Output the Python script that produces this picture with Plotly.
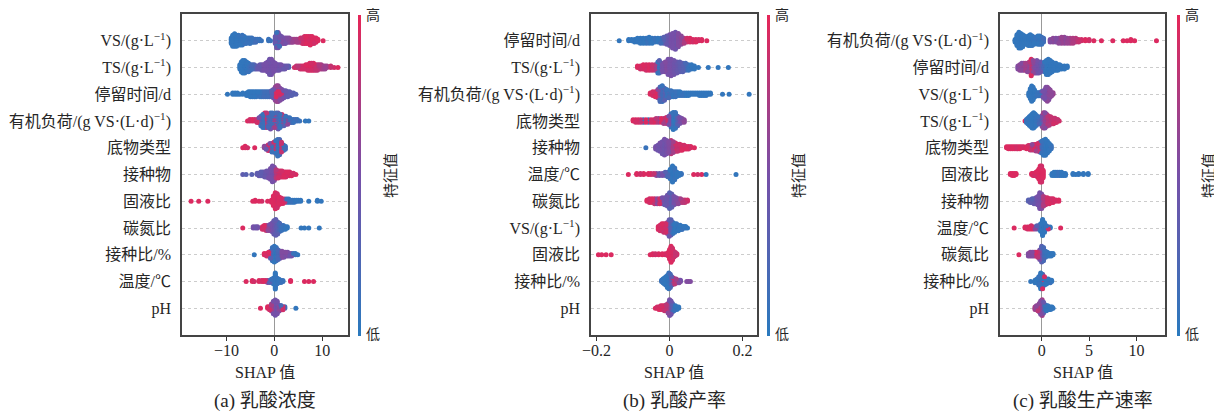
import numpy as np
import plotly.graph_objects as go

# ---------------- labels ----------------
VS_L = "VS/(g·L<sup>−1</sup>)"
TS_L = "TS/(g·L<sup>−1</sup>)"
HRT_L = "停留时间/d"
OLR_L = "有机负荷/(g VS·(L·d)<sup>−1</sup>)"
SUB_L = "底物类型"
INO_L = "接种物"
SL_L = "固液比"
CN_L = "碳氮比"
IR_L = "接种比/%"
T_L = "温度/℃"
PH_L = "pH"

LABELS_A = [VS_L, TS_L, HRT_L, OLR_L, SUB_L, INO_L, SL_L, CN_L, IR_L, T_L, PH_L]
LABELS_B = [HRT_L, TS_L, OLR_L, SUB_L, INO_L, T_L, CN_L, VS_L, SL_L, IR_L, PH_L]
LABELS_C = [OLR_L, HRT_L, VS_L, TS_L, SUB_L, SL_L, INO_L, T_L, CN_L, IR_L, PH_L]

TITLES = ["(a) 乳酸浓度", "(b) 乳酸产率", "(c) 乳酸生产速率"]
XTICKS_A = [-10, 0, 10]
XTICKS_B = [-0.2, 0, 0.2]
XTICKS_C = [0, 5, 10]
XTICKTEXT_A = ["−10", "0", "10"]
XTICKTEXT_B = ["−0.2", "0", "0.2"]
XTICKTEXT_C = ["0", "5", "10"]

# ---------------- data: (SHAP value, number of samples, feature value 0=low..1=high) ----------------
# panel (a) 乳酸浓度
A_VS = [(-9.0,5,0.05),(-8.7,9,0.05),(-8.3,10,0.05),(-7.9,9,0.05),(-7.5,8,0.08),(-7.1,7,0.05),(-6.7,8,0.1),
        (-6.3,6,0.05),(-5.9,5,0.1),(-5.5,4,0.1),(-5.1,5,0.1),(-4.7,4,0.1),(-4.3,3,0.1),(-3.9,3,0.15),(-3.5,2,0.1),
        (-3.1,2,0.1),(-2.7,1,0.1),(-1.2,2,0.1),(-0.8,1,0.1),(0.2,6,0.4),(0.5,8,0.45),(0.5,4,0.1),(0.8,12,0.5),
        (1.1,6,0.45),(1.1,3,0.15),(1.5,6,0.5),(1.9,5,0.55),(2.3,5,0.5),(2.7,4,0.55),(3.1,4,0.6),(3.5,3,0.6),
        (3.9,3,0.65),(4.3,2,0.7),(4.7,3,0.7),(5.1,3,0.75),(5.5,4,0.85),(5.9,5,0.9),(6.3,6,0.9),(6.7,6,0.95),
        (7.1,6,0.9),(7.5,7,0.95),(7.9,6,0.95),(8.3,5,0.9),(8.7,4,0.95),(9.1,2,0.95),(10.2,1,0.95)]
A_TS = [(-7.2,4,0.05),(-6.9,8,0.05),(-6.6,10,0.05),(-6.2,10,0.08),(-5.8,8,0.05),(-5.4,7,0.1),(-5.0,5,0.15),
        (-4.6,4,0.2),(-4.2,4,0.3),(-3.8,3,0.35),(-3.4,3,0.4),(-3.0,4,0.4),(-2.6,5,0.45),(-2.2,5,0.5),(-1.8,6,0.5),
        (-1.4,8,0.5),(-1.0,12,0.45),(-0.6,12,0.5),(-0.2,8,0.5),(0.2,6,0.5),(0.6,5,0.5),(1.0,5,0.45),(1.4,4,0.5),
        (1.8,3,0.4),(2.2,3,0.45),(2.6,2,0.4),(3.0,2,0.3),(4.2,1,0.9),(4.6,2,0.85),(5.0,2,0.8),(5.4,3,0.85),
        (5.8,3,0.9),(6.2,3,0.9),(6.6,4,0.95),(7.0,5,0.9),(7.4,6,0.95),(7.8,6,0.9),(8.2,6,0.95),(8.6,5,0.85),
        (9.0,5,0.8),(9.4,4,0.75),(9.8,4,0.7),(10.2,3,0.7),(10.6,3,0.65),(11.0,2,0.7),(11.8,2,0.85),(12.5,1,0.9),
        (13.3,1,0.95)]
A_HRT = [(-9.8,1,0.05),(-8.7,2,0.05),(-8.2,2,0.05),(-7.7,2,0.05),(-7.2,1,0.05),(-6.6,2,0.05),(-5.8,3,0.05),
         (-5.4,4,0.05),(-5.0,5,0.05),(-4.6,5,0.1),(-4.2,5,0.05),(-3.8,5,0.1),(-3.4,4,0.05),(-3.0,5,0.1),
         (-2.6,5,0.1),(-2.2,5,0.15),(-1.8,5,0.1),(-1.4,5,0.15),(-1.0,5,0.2),(-0.6,6,0.3),(-0.2,8,0.5),
         (0.2,12,0.6),(0.4,5,0.95),(0.5,14,0.65),(0.8,14,0.6),(0.9,4,0.95),(1.2,11,0.55),(1.5,3,0.9),
         (1.6,9,0.5),(2.0,7,0.45),(2.4,6,0.4),(2.8,5,0.35),(3.2,4,0.35),(3.6,3,0.3),(4.0,2,0.3),(4.5,1,0.3)]
A_OLR = [(-5.6,1,0.95),(-5.1,2,0.9),(-4.6,2,0.95),(-4.1,2,0.85),(-3.6,3,0.9),(-3.2,4,0.5),(-2.8,7,0.15),
         (-2.4,9,0.1),(-2.0,6,0.1),(-2.0,4,0.9),(-1.6,10,0.8),(-1.2,9,0.2),(-0.8,7,0.5),(-0.8,4,0.1),
         (-0.4,10,0.15),(0.0,9,0.7),(0.4,10,0.2),(0.8,7,0.4),(0.8,4,0.9),(1.2,9,0.1),(1.6,8,0.85),(2.0,7,0.3),
         (2.4,6,0.1),(2.8,5,0.6),(3.2,4,0.1),(3.6,3,0.2),(4.0,3,0.1),(4.4,2,0.15),(4.8,2,0.1),(5.3,1,0.1),
         (6.5,1,0.05),(7.2,1,0.05)]
A_SUB = [(-6.6,1,0.95),(-6.1,2,0.95),(-5.6,1,0.9),(-4.1,1,0.95),(-2.1,2,0.6),(-1.7,3,0.4),(-1.3,5,0.9),
         (-0.9,6,0.5),(-0.5,7,0.1),(-0.1,8,0.9),(0.3,10,0.1),(0.7,13,0.1),(1.1,12,0.2),(1.5,8,0.85),
         (1.9,5,0.1),(2.3,3,0.15)]
A_INO = [(-6.6,1,0.35),(-5.9,1,0.3),(-4.7,1,0.3),(-3.6,2,0.35),(-3.2,3,0.4),(-2.8,4,0.35),(-2.4,4,0.4),
         (-2.0,5,0.4),(-1.6,6,0.45),(-1.2,7,0.5),(-0.8,10,0.5),(-0.4,14,0.5),(0.0,12,0.55),(0.4,8,0.8),
         (0.8,7,0.9),(1.2,6,0.85),(1.6,6,0.9),(2.0,5,0.95),(2.4,5,0.9),(2.8,4,0.95),(3.2,4,0.9),(3.6,3,0.95),
         (4.0,2,0.9),(4.5,1,0.95)]
A_SL = [(-17.4,1,0.95),(-15.8,1,0.95),(-13.9,1,0.95),(-4.5,1,0.95),(-4.0,2,0.95),(-3.2,1,0.95),(-2.6,1,0.9),
        (-1.4,1,0.95),(-0.6,3,0.95),(-0.2,10,0.95),(0.2,16,0.95),(0.6,14,0.9),(1.0,8,0.95),(1.4,6,0.9),
        (1.8,5,0.95),(2.2,4,0.8),(2.6,4,0.1),(3.0,4,0.05),(3.4,3,0.1),(3.8,3,0.05),(4.2,3,0.1),(4.6,2,0.05),
        (5.0,2,0.1),(5.5,2,0.05),(7.2,1,0.05),(9.0,2,0.05),(9.8,1,0.05)]
A_CN = [(-6.6,1,0.95),(-4.4,2,0.5),(-3.9,2,0.45),(-3.5,2,0.5),(-2.5,3,0.9),(-2.1,4,0.95),(-1.7,5,0.85),
        (-1.3,5,0.6),(-0.9,6,0.5),(-0.5,8,0.45),(-0.1,12,0.4),(0.3,14,0.35),(0.7,11,0.3),(1.1,8,0.2),
        (1.5,5,0.1),(1.9,4,0.1),(2.3,3,0.05),(2.7,2,0.05),(5.6,1,0.05),(6.3,1,0.05),(7.2,1,0.05),(9.4,1,0.05)]
A_IR = [(-4.2,1,0.05),(-2.1,2,0.95),(-1.6,3,0.9),(-1.2,4,0.95),(-0.8,7,0.3),(-0.4,12,0.1),(0.0,14,0.05),
        (0.4,12,0.1),(0.8,9,0.2),(1.2,7,0.5),(1.6,6,0.55),(2.0,5,0.5),(2.4,4,0.55),(2.8,4,0.5),(3.2,3,0.45),
        (3.6,3,0.5),(4.0,2,0.1),(4.4,2,0.05),(4.9,1,0.05)]
A_T = [(-5.9,1,0.95),(-4.6,2,0.95),(-4.2,1,0.9),(-3.2,2,0.95),(-2.6,2,0.9),(-2.2,2,0.95),(-1.8,2,0.85),
       (-1.4,3,0.6),(-1.0,3,0.3),(-0.6,4,0.1),(-0.2,6,0.05),(0.2,16,0.05),(0.6,6,0.1),(1.0,4,0.05),
       (1.4,3,0.1),(1.8,2,0.1),(3.4,2,0.95),(6.3,1,0.95),(7.2,1,0.95),(8.2,1,0.95)]
A_PH = [(-2.9,1,0.95),(-1.4,2,0.95),(-1.0,3,0.9),(-0.6,6,0.7),(-0.2,10,0.5),(0.2,12,0.45),(0.6,10,0.5),
        (1.0,5,0.6),(1.4,4,0.2),(1.8,3,0.9),(2.2,2,0.2),(4.5,1,0.05)]

# panel (b) 乳酸产率
B_HRT = [(-0.138,1,0.05),(-0.112,2,0.05),(-0.104,2,0.05),(-0.096,3,0.05),(-0.088,4,0.05),(-0.080,5,0.05),
         (-0.072,5,0.05),(-0.064,5,0.1),(-0.056,6,0.05),(-0.048,5,0.05),(-0.040,4,0.1),(-0.032,4,0.05),
         (-0.024,5,0.15),(-0.016,6,0.3),(-0.008,8,0.4),(0.000,10,0.5),(0.008,13,0.5),(0.016,15,0.45),
         (0.024,12,0.55),(0.032,8,0.6),(0.040,5,0.75),(0.048,4,0.9),(0.056,4,0.95),(0.064,3,0.9),
         (0.072,3,0.95),(0.080,2,0.9),(0.088,2,0.95),(0.102,1,0.95)]
B_TS = [(-0.088,2,0.95),(-0.080,3,0.9),(-0.072,4,0.95),(-0.064,5,0.9),(-0.056,5,0.95),(-0.048,5,0.85),
        (-0.040,5,0.7),(-0.032,9,0.1),(-0.028,10,0.3),(-0.020,7,0.5),(-0.012,8,0.55),(-0.004,12,0.5),
        (0.004,13,0.5),(0.012,11,0.45),(0.020,9,0.4),(0.028,8,0.35),(0.036,7,0.3),(0.044,6,0.2),
        (0.052,5,0.1),(0.060,4,0.05),(0.068,3,0.05),(0.079,1,0.05),(0.106,1,0.05),(0.133,1,0.05),(0.161,1,0.05)]
B_OLR = [(-0.053,2,0.95),(-0.046,4,0.9),(-0.039,5,0.95),(-0.032,8,0.6),(-0.026,13,0.2),(-0.020,14,0.1),
         (-0.014,11,0.3),(-0.008,8,0.1),(-0.002,7,0.2),(0.004,6,0.1),(0.010,5,0.05),(0.016,5,0.1),
         (0.022,4,0.05),(0.028,4,0.05),(0.034,3,0.1),(0.040,3,0.05),(0.046,3,0.05),(0.052,3,0.05),
         (0.058,2,0.05),(0.064,2,0.05),(0.070,2,0.05),(0.076,2,0.05),(0.082,3,0.05),(0.088,3,0.05),
         (0.094,3,0.05),(0.100,3,0.05),(0.106,2,0.05),(0.112,2,0.05),(0.145,1,0.05),(0.163,1,0.05),(0.218,1,0.05)]
B_SUB = [(-0.100,2,0.95),(-0.093,3,0.9),(-0.086,3,0.95),(-0.079,3,0.85),(-0.072,3,0.1),(-0.065,3,0.95),
         (-0.058,3,0.1),(-0.051,3,0.9),(-0.044,3,0.95),(-0.037,4,0.8),(-0.030,4,0.6),(-0.023,4,0.95),
         (-0.016,5,0.7),(-0.009,6,0.9),(-0.002,8,0.5),(0.004,12,0.1),(0.010,15,0.05),(0.016,14,0.1),
         (0.022,9,0.3),(0.028,6,0.5),(0.034,4,0.55),(0.040,3,0.6)]
B_INO = [(-0.065,1,0.1),(-0.038,3,0.5),(-0.032,5,0.45),(-0.026,8,0.5),(-0.020,11,0.45),(-0.014,14,0.5),
         (-0.008,12,0.5),(-0.002,10,0.55),(0.004,12,0.8),(0.010,10,0.7),(0.016,8,0.9),(0.022,7,0.85),
         (0.028,6,0.9),(0.034,5,0.95),(0.040,4,0.9),(0.046,3,0.95),(0.052,3,0.9),(0.058,2,0.95),(0.068,1,0.95)]
B_T = [(-0.113,1,0.95),(-0.090,2,0.95),(-0.080,2,0.9),(-0.071,2,0.95),(-0.058,2,0.95),(-0.051,2,0.9),
       (-0.043,2,0.85),(-0.036,3,0.6),(-0.028,3,0.4),(-0.020,3,0.5),(-0.012,4,0.3),(-0.005,5,0.2),
       (0.002,10,0.05),(0.008,16,0.05),(0.014,12,0.1),(0.020,5,0.05),(0.026,3,0.05),(0.032,2,0.1),
       (0.066,1,0.95),(0.077,1,0.9),(0.088,1,0.95),(0.100,1,0.05),(0.182,1,0.05)]
B_CN = [(-0.062,2,0.95),(-0.055,4,0.9),(-0.048,4,0.95),(-0.041,5,0.85),(-0.034,5,0.6),(-0.027,5,0.9),
        (-0.020,6,0.5),(-0.013,7,0.4),(-0.006,10,0.45),(0.000,14,0.3),(0.006,12,0.35),(0.012,8,0.5),
        (0.018,6,0.55),(0.024,5,0.6),(0.030,4,0.7),(0.036,3,0.8),(0.042,3,0.85),(0.049,2,0.9)]
B_VS = [(-0.031,3,0.95),(-0.026,5,0.9),(-0.021,6,0.95),(-0.016,7,0.85),(-0.011,7,0.9),(-0.006,9,0.6),
        (-0.001,13,0.4),(0.004,12,0.3),(0.009,9,0.1),(0.014,7,0.05),(0.019,6,0.1),(0.024,5,0.05),
        (0.029,4,0.05),(0.034,3,0.1),(0.039,2,0.05),(0.044,2,0.05),(0.049,1,0.05)]
B_SL = [(-0.195,1,0.95),(-0.186,1,0.95),(-0.174,1,0.95),(-0.160,1,0.95),(-0.053,1,0.95),(-0.046,2,0.95),
        (-0.039,2,0.9),(-0.030,2,0.95),(-0.020,2,0.95),(-0.012,2,0.9),(-0.004,4,0.95),(0.000,10,0.95),
        (0.004,16,0.95),(0.008,12,0.9),(0.012,6,0.95),(0.016,4,0.85),(0.020,2,0.9)]
B_IR = [(-0.022,2,0.1),(-0.018,4,0.05),(-0.014,6,0.05),(-0.010,8,0.1),(-0.006,11,0.05),(-0.002,14,0.1),
        (0.002,12,0.2),(0.006,8,0.4),(0.010,6,0.9),(0.014,5,0.8),(0.018,4,0.7),(0.022,3,0.6),(0.026,3,0.55),
        (0.030,2,0.5),(0.047,1,0.55),(0.052,1,0.6),(0.057,1,0.55)]
B_PH = [(-0.039,1,0.95),(-0.034,2,0.9),(-0.029,3,0.95),(-0.024,4,0.9),(-0.019,4,0.95),(-0.014,5,0.85),
        (-0.009,6,0.8),(-0.004,9,0.6),(0.000,14,0.5),(0.004,12,0.45),(0.008,8,0.3),(0.012,5,0.1),
        (0.016,4,0.05),(0.020,3,0.05),(0.025,2,0.05)]

# panel (c) 乳酸生产速率
C_OLR = [(-2.8,3,0.05),(-2.6,10,0.05),(-2.4,14,0.05),(-2.2,13,0.05),(-2.0,11,0.05),(-1.8,8,0.05),
         (-1.6,7,0.05),(-1.4,9,0.05),(-1.2,10,0.05),(-1.0,9,0.1),(-0.8,7,0.05),(-0.6,6,0.1),(-0.4,8,0.05),
         (-0.2,8,0.1),(0.0,7,0.1),(0.2,4,0.15),(0.9,3,0.55),(1.2,4,0.6),(1.5,4,0.55),(1.8,5,0.6),(2.1,6,0.65),
         (2.4,6,0.6),(2.7,5,0.65),(3.0,5,0.7),(3.3,5,0.75),(3.6,4,0.8),(3.9,3,0.85),(4.2,2,0.9),(4.6,2,0.95),
         (5.0,2,0.9),(5.5,1,0.95),(6.3,1,0.95),(7.5,1,0.95),(8.6,1,0.95),(9.0,1,0.95),(9.4,2,0.95),
         (9.8,1,0.95),(12.1,1,0.95)]
C_HRT = [(-2.5,3,0.55),(-2.3,5,0.6),(-2.1,6,0.55),(-1.9,6,0.65),(-1.7,6,0.7),(-1.5,7,0.6),(-1.3,8,0.8),
         (-1.1,13,0.95),(-0.9,10,0.6),(-0.7,9,0.5),(-0.5,10,0.5),(-0.3,9,0.45),(-0.1,8,0.4),(0.1,6,0.2),
         (0.3,8,0.05),(0.5,11,0.05),(0.7,12,0.05),(0.9,10,0.05),(1.1,8,0.05),(1.3,6,0.05),(1.5,6,0.05),
         (1.7,5,0.05),(1.9,4,0.05),(2.1,3,0.05),(2.4,3,0.05),(2.7,2,0.05)]
C_VS = [(-1.35,3,0.05),(-1.2,8,0.05),(-1.05,12,0.05),(-0.9,10,0.05),(-0.75,6,0.05),(-0.6,3,0.05),
        (-0.45,3,0.1),(-0.3,3,0.05),(-0.15,3,0.1),(0.0,4,0.3),(0.15,5,0.5),(0.3,7,0.5),(0.45,10,0.55),
        (0.6,11,0.6),(0.75,9,0.55),(0.9,6,0.6),(1.05,3,0.6),(1.2,2,0.65)]
C_TS = [(-1.75,1,0.95),(-1.6,3,0.1),(-1.45,5,0.05),(-1.3,7,0.05),(-1.15,9,0.05),(-1.0,11,0.05),
        (-0.85,12,0.05),(-0.7,10,0.05),(-0.55,8,0.1),(-0.4,6,0.1),(-0.25,5,0.2),(-0.1,6,0.5),(0.05,9,0.6),
        (0.2,12,0.7),(0.35,12,0.55),(0.5,10,0.65),(0.65,8,0.8),(0.8,7,0.75),(0.95,6,0.85),(1.1,5,0.8),
        (1.25,5,0.9),(1.4,4,0.85),(1.55,3,0.9),(1.7,2,0.85),(1.85,1,0.9)]
C_SUB = [(-3.7,2,0.95),(-3.5,3,0.95),(-3.3,3,0.9),(-3.1,3,0.95),(-2.9,3,0.95),(-2.7,3,0.9),(-2.5,3,0.95),
         (-2.3,3,0.95),(-2.1,2,0.9),(-1.9,2,0.95),(-1.6,3,0.95),(-1.4,4,0.9),(-1.2,5,0.85),(-1.0,6,0.6),
         (-0.8,6,0.95),(-0.6,7,0.7),(-0.4,8,0.9),(-0.2,10,0.3),(0.0,12,0.1),(0.2,15,0.05),(0.4,16,0.05),
         (0.6,12,0.05),(0.8,8,0.05),(1.0,4,0.1)]
C_SL = [(-3.3,2,0.95),(-3.1,3,0.95),(-2.9,3,0.95),(-2.7,2,0.95),(-1.05,2,0.95),(-0.9,3,0.95),(-0.75,3,0.9),
        (-0.6,4,0.95),(-0.45,6,0.95),(-0.3,10,0.95),(-0.15,16,0.95),(0.0,16,0.9),(0.15,8,0.95),(1.1,3,0.05),
        (1.3,4,0.05),(1.5,4,0.05),(1.7,4,0.1),(1.9,4,0.05),(2.1,4,0.05),(2.3,3,0.05),(2.5,3,0.05),
        (3.3,2,0.05),(3.6,1,0.05),(3.9,2,0.05),(4.4,2,0.05),(4.9,2,0.05)]
C_INO = [(-1.4,2,0.3),(-1.2,3,0.35),(-1.0,4,0.3),(-0.8,5,0.4),(-0.6,6,0.45),(-0.4,8,0.5),(-0.2,14,0.5),
         (0.0,13,0.55),(0.2,9,0.75),(0.4,7,0.85),(0.6,6,0.9),(0.8,5,0.95),(1.0,4,0.9),(1.2,4,0.95),
         (1.5,2,0.9),(1.8,2,0.95)]
C_T = [(-2.9,1,0.95),(-1.75,2,0.95),(-1.5,3,0.9),(-1.3,3,0.95),(-1.1,4,0.9),(-0.9,3,0.95),(-0.7,3,0.6),
       (-0.5,4,0.3),(-0.3,4,0.1),(-0.1,8,0.05),(0.1,16,0.05),(0.3,10,0.05),(0.5,4,0.1),(0.7,3,0.9),
       (0.9,2,0.05),(2.0,1,0.95)]
C_CN = [(-2.4,1,0.95),(-1.4,3,0.55),(-1.2,4,0.6),(-1.0,4,0.55),(-0.8,4,0.6),(-0.6,4,0.9),(-0.4,5,0.8),
        (-0.2,9,0.5),(0.0,14,0.3),(0.2,12,0.2),(0.4,6,0.1),(0.6,4,0.05),(0.8,3,0.05),(1.0,3,0.05),(1.2,2,0.05)]
C_IR = [(-1.15,1,0.05),(-0.7,3,0.05),(-0.5,4,0.05),(-0.3,8,0.1),(-0.1,14,0.05),(0.1,10,0.3),(0.1,3,0.95),
        (0.3,6,0.1),(0.3,2,0.9),(0.5,5,0.05),(0.7,4,0.05),(0.9,3,0.1),(1.05,2,0.05)]
C_PH = [(-0.7,3,0.7),(-0.55,4,0.6),(-0.4,5,0.8),(-0.25,8,0.6),(-0.1,12,0.55),(0.05,14,0.7),(0.2,10,0.4),
        (0.35,6,0.1),(0.5,5,0.05),(0.65,4,0.05),(0.8,3,0.05),(0.95,3,0.05),(1.1,2,0.05),(1.2,1,0.05)]

ROWS_A = [A_VS, A_TS, A_HRT, A_OLR, A_SUB, A_INO, A_SL, A_CN, A_IR, A_T, A_PH]
ROWS_B = [B_HRT, B_TS, B_OLR, B_SUB, B_INO, B_T, B_CN, B_VS, B_SL, B_IR, B_PH]
ROWS_C = [C_OLR, C_HRT, C_VS, C_TS, C_SUB, C_SL, C_INO, C_T, C_CN, C_IR, C_PH]

# ---------------- style / layout ----------------
W, H = 1222, 412
OFF = 8  # page body margin of the html page
FONT = "Liberation Serif, 'Times New Roman', 'Noto Sans CJK SC', serif"
TXT = "#262626"
COLORSCALE = [[0.0, "rgb(42,122,190)"], [0.5, "rgb(118,80,168)"], [1.0, "rgb(230,38,88)"]]
PLOT_TOP, PLOT_BOT = 14, 335
PANELS = [
    dict(rows=ROWS_A, labels=LABELS_A, x0=182, x1=348, rng=[-19.3, 15.4], tv=XTICKS_A, tt=XTICKTEXT_A, cb=358, hi=373, lab=391),
    dict(rows=ROWS_B, labels=LABELS_B, x0=591, x1=757, rng=[-0.2153, 0.2395], tv=XTICKS_B, tt=XTICKTEXT_B, cb=767, hi=782, lab=799),
    dict(rows=ROWS_C, labels=LABELS_C, x0=1000, x1=1165, rng=[-4.39, 13.0], tv=XTICKS_C, tt=XTICKTEXT_C, cb=1177, hi=1192, lab=1209),
]


def px(x):
    return (x - OFF) / W


def py(y):
    return 1 - (y - OFF) / H


def beeswarm(row, nbins=100, row_height=0.4):
    xs, cs = [], []
    for x, n, c in row:
        xs += [x] * n
        cs += [c] * n
    xs = np.array(xs, float)
    cs = np.array(cs, float)
    N = len(xs)
    order = np.argsort((np.arange(N) * 0.6180339887) % 1.0)  # deterministic mixing order
    xs, cs = xs[order], cs[order]
    quant = np.round(nbins * (xs - xs.min()) / (xs.max() - xs.min() + 1e-8))
    inds = np.argsort(quant, kind="stable")
    ys = np.zeros(N)
    layer, last = 0, None
    for i in inds:
        if quant[i] != last:
            layer = 0
        ys[i] = np.ceil(layer / 2) * ((layer % 2) * 2 - 1)
        layer += 1
        last = quant[i]
    ys *= 0.9 * (row_height / np.max(ys + 1))
    return xs, ys, cs


def note(x, y, text, size, angle=0):
    return dict(x=px(x), y=py(y), text=text, showarrow=False, xref="paper", yref="paper",
                xanchor="center", yanchor="middle", textangle=angle,
                font=dict(size=size, color=TXT, family=FONT))


fig = go.Figure()
annotations = []
ydom = [py(PLOT_BOT), py(PLOT_TOP)]
for k, p in enumerate(PANELS):
    sfx = "" if k == 0 else str(k + 1)
    nrow = len(p["rows"])
    X, Y, C = [], [], []
    for i, row in enumerate(p["rows"]):
        pos = nrow - 1 - i
        xs, ys, cs = beeswarm(row)
        X.append(xs); Y.append(pos + ys); C.append(cs)
    X = np.concatenate(X); Y = np.concatenate(Y); C = np.concatenate(C)
    fig.add_trace(go.Scatter(
        x=X, y=Y, mode="markers", xaxis="x" + sfx, yaxis="y" + sfx, hoverinfo="skip",
        marker=dict(size=5, color=C, coloraxis="coloraxis" + sfx, line=dict(width=0)),
        showlegend=False))
    fig.layout["xaxis" + sfx] = dict(
        domain=[px(p["x0"]), px(p["x1"])], range=p["rng"], anchor="y" + sfx,
        tickvals=p["tv"], ticktext=p["tt"], ticklabelstandoff=-4,
        ticks="outside", ticklen=4, tickwidth=1, tickcolor="#333", showgrid=False,
        zeroline=True, zerolinecolor="#999999", zerolinewidth=1.4, automargin=False,
        showline=True, mirror=True, linecolor="#444444", linewidth=1.6,
        tickfont=dict(size=16, color=TXT, family=FONT))
    fig.layout["yaxis" + sfx] = dict(
        domain=ydom, range=[-1, nrow], anchor="x" + sfx, automargin=False,
        tickvals=list(range(nrow - 1, -1, -1)), ticktext=p["labels"],
        ticks="outside", ticklen=6, tickcolor="rgba(0,0,0,0)",
        showgrid=True, gridcolor="#cccccc", gridwidth=1, griddash="3px,3px", zeroline=False,
        showline=True, mirror=True, linecolor="#444444", linewidth=1.6,
        tickfont=dict(size=16, color=TXT, family=FONT))
    fig.layout["coloraxis" + sfx] = dict(
        colorscale=COLORSCALE, cmin=0, cmax=1,
        colorbar=dict(x=px(p["cb"]), xanchor="left", y=py(175.5), yanchor="middle",
                      len=321, lenmode="pixels", thickness=3, thicknessmode="pixels",
                      xpad=0, ypad=0, outlinewidth=0, showticklabels=False, ticks=""))
    cx = (p["x0"] + p["x1"]) / 2
    annotations += [
        note(p["hi"], 15, "高", 14),
        note(p["hi"], 334, "低", 14),
        note(p["lab"], 176, "特征值", 15, -90),
        note(cx, 372, "SHAP 值", 16),
        note(cx, 401, TITLES[k], 19),
    ]

fig.update_layout(
    width=W, height=H, margin=dict(l=0, r=0, t=0, b=0, autoexpand=False),
    paper_bgcolor="white", plot_bgcolor="white", showlegend=False,
    font=dict(family=FONT, color=TXT, size=16), annotations=annotations)

fig.write_html("out.html")
